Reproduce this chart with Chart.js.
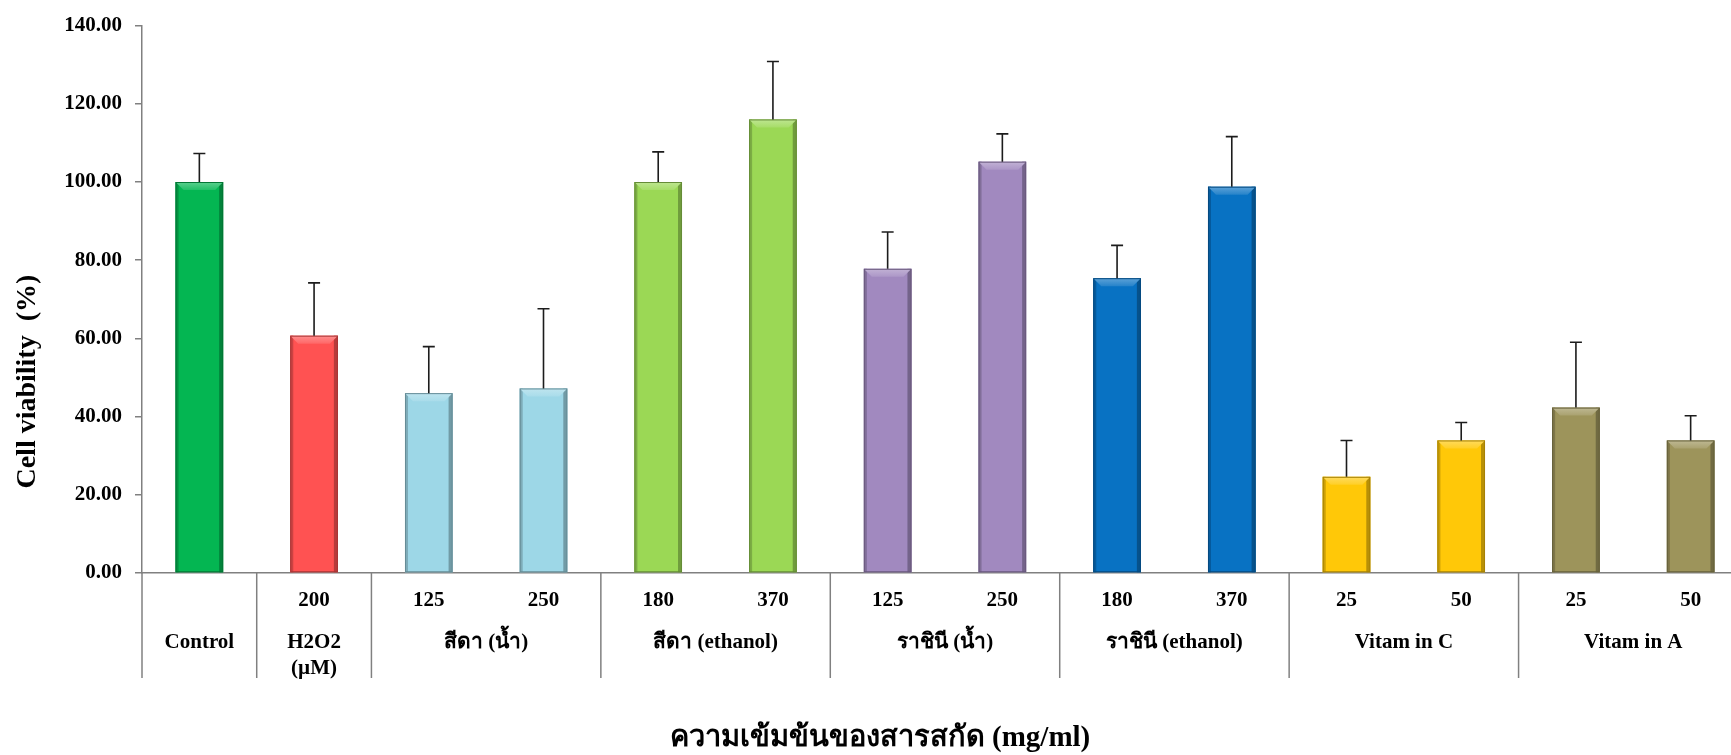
<!DOCTYPE html>
<html lang="th">
<head>
<meta charset="utf-8">
<script src="https://cdn.jsdelivr.net/npm/chart.js@4.4.0/dist/chart.umd.min.js"></script>
<style>
    html, body { margin: 0; padding: 0; background: #ffffff; overflow: hidden; }
    #myChartCanvas { display: block; }
</style>
</head>
<body>
<canvas id="myChartCanvas" width="1760" height="755"></canvas>
<script>

    // doses de cada barra (Control não tem dose)
    var doses = ['', '200', '125', '250', '180', '370', '125', '250', '180', '370', '25', '50', '25', '50'];
    // viabilidade celular (%) e desvio padrão
    var viabilidade = [100.0, 60.7, 46.0, 47.2, 100.0, 116.0, 77.8, 105.2, 75.4, 98.8, 24.6, 33.9, 42.3, 33.9];
    var desvios = [7.3, 13.5, 11.9, 20.4, 7.7, 14.8, 9.4, 7.1, 8.4, 12.8, 9.3, 4.6, 16.7, 6.3];

    // grupos do eixo x (linhas de texto) e quantas barras cada um ocupa
    var grupos = [['Control'], ['H2O2', '(µM)'], ['สีดา (น้ำ)'], ['สีดา (ethanol)'], ['ราชินี (น้ำ)'], ['ราชินี (ethanol)'], ['Vitam in C'], ['Vitam in A']];
    var tamanhoGrupos = [1, 1, 2, 2, 2, 2, 2, 2];

    var ticksY = [0, 20, 40, 60, 80, 100, 120, 140];
    var tituloY = 'Cell viability  (%)';
    var tituloX = 'ความเข้มข้นของสารสกัด (mg/ml)';

    var coresGrupos = ['#04b652', '#ff5252', '#9dd7e7', '#9bd855', '#a189bf', '#0872c3', '#ffc808', '#9d945b'];
    var fonteSerif = '"Liberation Serif", "Times New Roman", serif';

    var coresBarras = [];
    for (var g = 0; g < grupos.length; g++) {
        for (var k = 0; k < tamanhoGrupos[g]; k++) {
            coresBarras.push(coresGrupos[g]);
        }
    }

    function sombra(hex, fator) {
        var r = parseInt(hex.substr(1, 2), 16);
        var gg = parseInt(hex.substr(3, 2), 16);
        var b = parseInt(hex.substr(5, 2), 16);
        function ajusta(c) {
            var v = fator < 0 ? c * (1 + fator) : c + (255 - c) * fator;
            return Math.round(Math.max(0, Math.min(255, v)));
        }
        return 'rgb(' + ajusta(r) + ',' + ajusta(gg) + ',' + ajusta(b) + ')';
    }

    // relevo das barras: laterais escuras e chanfro claro no topo
    function desenharRelevo(ctx, barra, cor) {
        var esq = barra.x - barra.width / 2;
        var dir = barra.x + barra.width / 2;
        var topo = barra.y;
        var base = barra.base;

        ctx.save();
        ctx.fillStyle = sombra(cor, -0.2);
        ctx.fillRect(esq, topo, 3, base - topo);
        ctx.fillStyle = sombra(cor, -0.28);
        ctx.fillRect(dir - 4, topo, 4, base - topo);

        var grad = ctx.createLinearGradient(0, topo, 0, topo + 8);
        grad.addColorStop(0, sombra(cor, 0.35));
        grad.addColorStop(1, sombra(cor, 0.12));
        ctx.fillStyle = grad;
        ctx.beginPath();
        ctx.moveTo(esq, topo);
        ctx.lineTo(dir, topo);
        ctx.lineTo(dir - 8, topo + 8);
        ctx.lineTo(esq + 8, topo + 8);
        ctx.closePath();
        ctx.fill();

        ctx.strokeStyle = sombra(cor, -0.35);
        ctx.lineWidth = 1;
        ctx.strokeRect(esq + 0.5, topo + 0.5, barra.width - 1, base - topo - 1);
        ctx.restore();
    }

    var pluginExtras = {
        id: 'extras',
        afterDatasetsDraw: function (chart) {
            var ctx = chart.ctx;
            var y = chart.scales.y;
            var meta = chart.getDatasetMeta(0);

            meta.data.forEach(function (barra, i) {
                desenharRelevo(ctx, barra, coresBarras[i]);
            });

            // barras de erro (só para cima)
            ctx.save();
            ctx.strokeStyle = '#1c1c1c';
            ctx.lineWidth = 1.6;
            meta.data.forEach(function (barra, i) {
                var yValor = y.getPixelForValue(viabilidade[i]);
                var yTopo = y.getPixelForValue(viabilidade[i] + desvios[i]);
                ctx.beginPath();
                ctx.moveTo(barra.x, yValor);
                ctx.lineTo(barra.x, yTopo);
                ctx.moveTo(barra.x - 6, yTopo);
                ctx.lineTo(barra.x + 6, yTopo);
                ctx.stroke();
            });
            ctx.restore();
        },
        afterDraw: function (chart) {
            var ctx = chart.ctx;
            var x = chart.scales.x;
            var y = chart.scales.y;
            var area = chart.chartArea;
            var passo = x.getPixelForValue(1) - x.getPixelForValue(0);

            ctx.save();
            // tabela de grupos abaixo do eixo
            ctx.strokeStyle = '#808080';
            ctx.lineWidth = 1.5;
            ctx.fillStyle = '#000000';
            ctx.font = 'bold 21px ' + fonteSerif;
            ctx.textAlign = 'center';
            ctx.textBaseline = 'middle';

            var inicio = 0;
            for (var g = 0; g < grupos.length; g++) {
                var xEsq = x.getPixelForValue(inicio) - passo / 2;
                ctx.beginPath();
                ctx.moveTo(xEsq, area.bottom);
                ctx.lineTo(xEsq, area.bottom + 105);
                ctx.stroke();

                var xCentro = (x.getPixelForValue(inicio) + x.getPixelForValue(inicio + tamanhoGrupos[g] - 1)) / 2;
                for (var l = 0; l < grupos[g].length; l++) {
                    ctx.fillText(grupos[g][l], xCentro, area.bottom + 70 + l * 26);
                }
                inicio += tamanhoGrupos[g];
            }

            // título do eixo y
            ctx.save();
            ctx.translate(28, y.getPixelForValue(21.6));
            ctx.rotate(-Math.PI / 2);
            ctx.textAlign = 'left';
            ctx.font = 'bold 28px ' + fonteSerif;
            ctx.fillText(tituloY, 0, 0);
            ctx.restore();

            // título do eixo x
            ctx.font = 'bold 29px ' + fonteSerif;
            ctx.fillText(tituloX, chart.width / 2, area.bottom + 166);
            ctx.restore();
        }
    };

    var dados = {
        labels: doses,
        datasets: [
            {
                label: 'Cell viability',
                data: viabilidade,
                backgroundColor: coresBarras,
                borderWidth: 0,
                barPercentage: 0.415,
                categoryPercentage: 1.0
            }
        ]
    };

    var config = {
        type: 'bar',
        data: dados,
        options: {
            responsive: false,
            animation: false,
            devicePixelRatio: 1,
            layout: {
                padding: { top: 20, right: 12, bottom: 0, left: 0 }
            },
            plugins: {
                legend: { display: false },
                tooltip: { enabled: false }
            },
            scales: {
                x: {
                    grid: { display: false, drawTicks: false },
                    border: { color: '#808080', width: 1.5 },
                    ticks: {
                        color: '#000000',
                        padding: 15,
                        maxRotation: 0,
                        autoSkip: false,
                        font: { family: fonteSerif, size: 21, weight: 'bold' }
                    },
                    afterFit: function (escala) { escala.height = 182; }
                },
                y: {
                    min: 0,
                    max: 140,
                    afterBuildTicks: function (escala) {
                        escala.ticks = ticksY.map(function (v) { return { value: v }; });
                    },
                    grid: { drawOnChartArea: false, drawTicks: true, tickLength: 7, color: '#808080', lineWidth: 1.5 },
                    border: { color: '#808080', width: 1.5 },
                    ticks: {
                        color: '#000000',
                        padding: 13,
                        font: { family: fonteSerif, size: 21, weight: 'bold' },
                        callback: function (valor) { return valor.toFixed(2); }
                    },
                    afterFit: function (escala) { escala.width = 142; }
                }
            }
        },
        plugins: [pluginExtras]
    };

    var myChart = new Chart(
        document.getElementById('myChartCanvas'),
        config
    );
</script>
</body>
</html>
